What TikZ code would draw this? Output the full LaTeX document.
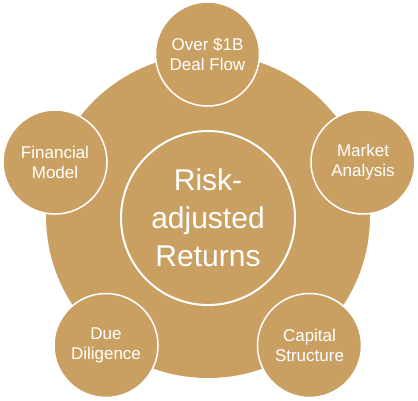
\documentclass[tikz,border=0pt]{standalone}
\usepackage{fontspec}
\setmainfont{Liberation Sans}
\definecolor{gold}{RGB}{201,160,98}
\begin{document}
\begin{tikzpicture}[x=1pt,y=-1pt,
  sat/.style={circle,fill=gold,draw=white,line width=1.5pt,minimum size=104pt,inner sep=0pt,
    text=white,align=center,font=\fontsize{17}{20}\selectfont},
  hub/.style={circle,fill=gold,draw=white,line width=2pt,minimum size=174pt,inner sep=0pt,
    text=white,align=center,font=\fontsize{30}{38}\selectfont}]
\useasboundingbox (0,0) rectangle (418,400);
\node[circle,fill=gold,minimum size=324pt,inner sep=0pt] (big) at (208,216) {};
\node[hub] (center) at (208,218) {Risk-\\adjusted\\Returns};
\node[sat] (top) at (207.5,54) {Over \$1B\\Deal Flow};
\node[sat] (right) at (363,162) {Market\\Analysis};
\node[sat] (left) at (55,162) {Financial\\Model};
\node[sat] (bl) at (106,345.5) {Due\\Diligence};
\node[sat] (br) at (309.5,345.5) {Capital\\Structure};
\end{tikzpicture}
\end{document}
